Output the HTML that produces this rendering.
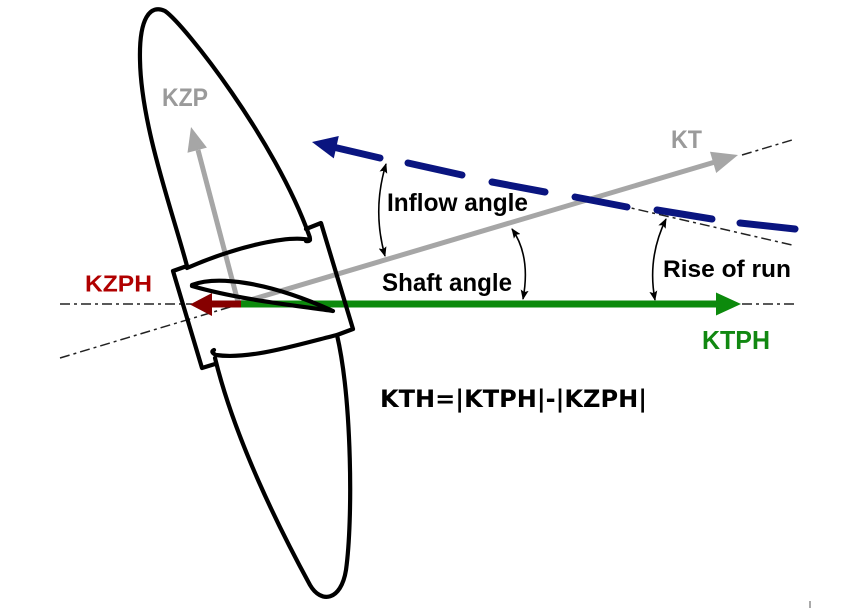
<!DOCTYPE html>
<html>
<head>
<meta charset="utf-8">
<style>
  html, body { margin: 0; padding: 0; background: #ffffff; }
  svg { display: block; }
  text { font-family: "Liberation Sans", Arial, sans-serif; font-weight: bold; }
</style>
</head>
<body>
<svg width="862" height="608" viewBox="0 0 862 608" xmlns="http://www.w3.org/2000/svg">
  <defs>
    <marker id="ah" viewBox="0 0 10 8" refX="9" refY="4" markerWidth="10" markerHeight="8" markerUnits="userSpaceOnUse" orient="auto-start-reverse">
      <path d="M0,0 L10,4 L0,8 L2,4 z" fill="#000"/>
    </marker>
  </defs>
  <rect x="0" y="0" width="862" height="608" fill="#ffffff"/>

  <!-- dash-dot reference lines -->
  <g stroke="#222" stroke-width="1.5" fill="none" stroke-dasharray="10 4 3 4">
    <line x1="60" y1="304" x2="192" y2="304"/>
    <line x1="742" y1="304" x2="796" y2="304"/>
    <line x1="60" y1="358" x2="240" y2="304"/>
    <line x1="742" y1="155" x2="792" y2="140"/>
    <line x1="618" y1="205" x2="792" y2="245"/>
  </g>

  <!-- gray KZP arrow -->
  <line x1="238" y1="302" x2="198" y2="150" stroke="#a6a6a6" stroke-width="5"/>
  <polygon points="191,127 206.9,147.6 187.5,152.8" fill="#a6a6a6"/>

  <!-- gray KT arrow -->
  <line x1="240" y1="303" x2="715" y2="162" stroke="#a6a6a6" stroke-width="5"/>
  <polygon points="738,155 716.2,173 710,151.8" fill="#a6a6a6"/>

  <!-- green KTPH arrow -->
  <line x1="240" y1="304" x2="718" y2="304" stroke="#0c8a0c" stroke-width="7"/>
  <polygon points="741,304 716,292.5 716,315.5" fill="#0c8a0c"/>

  <!-- red KZPH arrow -->
  <line x1="208" y1="304" x2="241" y2="304" stroke="#860000" stroke-width="7"/>
  <polygon points="190,304.5 212,293 212,316" fill="#860000"/>

  <!-- propeller outline -->
  <g stroke="#000" stroke-width="4.2" fill="none" stroke-linejoin="round" stroke-linecap="round">
    <!-- upper blade -->
    <path d="M187,266 C172,210 141,125 140,60 C139,18 150,4 165,11 C185,25 275,140 309,235 Q312,242 306,241"/>
    <!-- upper root curve -->
    <path d="M310,240 C290,235 240,245 187,268"/>
    <!-- hub -->
    <path d="M187,266 L173,271 L202,368 L215,364"/>
    <path d="M306,229 L321,223 L353,329 L337,335"/>
    <!-- lower root curve -->
    <path d="M337,335 C300,344 250,360 216,355 Q210,352 214,350"/>
    <!-- lower blade -->
    <path d="M337,335 C352,400 353,520 346,570 C341,601 321,604 310,585 C280,530 235,440 215,358"/>
    <!-- airfoil section -->
    <path d="M192,285 C215,276 265,280 333,311 C300,306 240,300 192,286 Z"/>
  </g>

  <!-- blue dashed inflow arrow -->
  <g stroke="#0a1580" stroke-width="7" stroke-linecap="round" fill="none">
    <line x1="333" y1="147" x2="380" y2="158"/>
    <line x1="408" y1="163" x2="462" y2="175"/>
    <line x1="492" y1="182" x2="545" y2="192"/>
    <line x1="575" y1="197" x2="627" y2="207"/>
    <line x1="657" y1="210" x2="712" y2="219"/>
    <line x1="740" y1="223" x2="795" y2="229"/>
  </g>
  <polygon points="312,142 338.8,136 333.8,158.4" fill="#0a1580"/>

  <!-- angle arcs -->
  <g stroke="#000" stroke-width="1.6" fill="none" marker-start="url(#ah)" marker-end="url(#ah)">
    <path d="M386,164 Q372,210 385,256"/>
    <path d="M512,229 Q531,256 523,299"/>
    <path d="M666,219 Q647,258 655,300"/>
  </g>

  <!-- labels -->
  <text x="162" y="106" font-size="25" fill="#9a9a9a" textLength="46" lengthAdjust="spacingAndGlyphs">KZP</text>
  <text x="671" y="148" font-size="25" fill="#9a9a9a" textLength="31" lengthAdjust="spacingAndGlyphs">KT</text>
  <text x="85" y="291.5" font-size="23" fill="#b00000" textLength="67" lengthAdjust="spacingAndGlyphs">KZPH</text>
  <text x="702" y="349" font-size="26" fill="#118811" textLength="68" lengthAdjust="spacingAndGlyphs">KTPH</text>
  <text x="387" y="211" font-size="25" fill="#000" textLength="141" lengthAdjust="spacingAndGlyphs">Inflow angle</text>
  <text x="382" y="291" font-size="25" fill="#000" textLength="130" lengthAdjust="spacingAndGlyphs">Shaft angle</text>
  <text x="663" y="277" font-size="24" fill="#000" textLength="128" lengthAdjust="spacingAndGlyphs">Rise of run</text>
  <text x="380" y="407" font-size="24" fill="#000" style="font-family:'DejaVu Sans','Liberation Sans',sans-serif;" textLength="267" lengthAdjust="spacingAndGlyphs">KTH=|KTPH|-|KZPH|</text>

  <!-- tiny tick bottom right -->
  <line x1="810" y1="601" x2="810" y2="608" stroke="#555" stroke-width="1"/>
</svg>
</body>
</html>
